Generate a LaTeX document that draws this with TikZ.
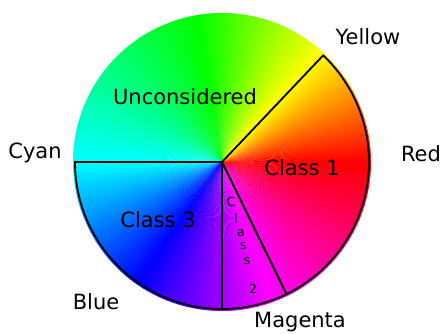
\documentclass[tikz,border=0pt]{standalone}
\usepackage{fontspec}
\setmainfont{DejaVu Sans}
\begin{document}
\begin{tikzpicture}[x=1pt,y=1pt,
  outl/.style={draw=black,line width=1.8pt,line join=round},
  lab/.style={font=\fontsize{21}{25}\selectfont,inner sep=0pt},
  small/.style={font=\fontsize{12.5}{15}\selectfont,inner sep=0pt}]
\useasboundingbox (0,0) rectangle (443,333);
\begin{scope}[shift={(222,171)}]
  \coordinate (O) at (0,0);
  \foreach \ta/\tb/\ha/\hb in {0/48/0/60,48/100/60/120,100/180/120/180,180/235/180/240,235/290/240/300,290/360/300/360}{
    \pgfmathtruncatemacro\tbm{\tb-1}
    \foreach \a in {\ta,...,\tbm}{
      \pgfmathsetmacro\hh{(\ha+(\a+0.5-\ta)*(\hb-\ha)/(\tb-\ta))/360}
      \definecolor{wc}{hsb}{\hh,1,1}
      \fill[wc] (O) -- (\a:149) arc[start angle=\a,end angle=\a+1.3,radius=149] -- cycle;
    }
  }
  \coordinate (Y) at (46.5:149);
  \coordinate (C) at (180:147);
  \coordinate (B) at (270:147);
  \coordinate (M) at (296:147);
  \draw[outl] (O) -- (C) arc[start angle=180,end angle=270,radius=147] -- cycle;
  \draw[outl] (O) -- (B) arc[start angle=270,end angle=296,radius=147] -- cycle;
  \draw[outl] (O) -- (M) arc[start angle=296,end angle=406.5,radius=147] -- (O);
\end{scope}
\node[lab] (ly) at (368,296) {Yellow};
\node[lab] (lr) at (421,179) {Red};
\node[lab] (lc) at (35,180) {Cyan};
\node[lab] (lb) at (96,31) {Blue};
\node[lab] (lm) at (300,11) {Magenta};
\node[lab] (lu) at (185,236) {Unconsidered};
\node[lab] (l1) at (302,165) {Class 1};
\node[lab] (l3) at (158,113) {Class 3};
\node[small] (c1) at (231,130.7) {C};
\node[small] (c2) at (236,114.7) {l};
\node[small] (c3) at (241,100.3) {a};
\node[small] (c4) at (243.5,87) {s};
\node[small] (c5) at (247,72.3) {s};
\node[small] (c6) at (253,44) {2};
\end{tikzpicture}
\end{document}
